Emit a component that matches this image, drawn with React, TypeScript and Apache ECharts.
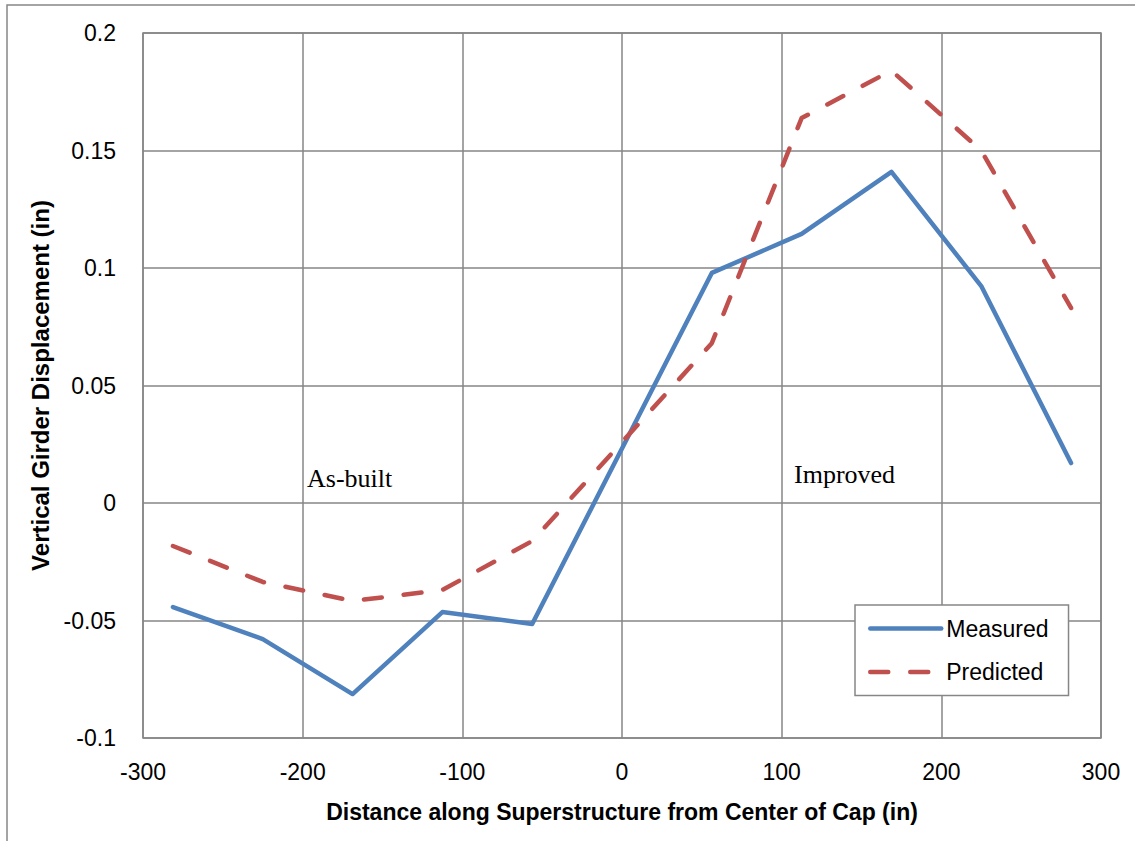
import React, { useEffect, useRef } from "react";
import * as echarts from "echarts";

const distances = [-281.25, -225, -168.75, -112.5, -56.25, 56.25, 112.5, 168.75, 225, 281.25];
const measured = [-0.0443, -0.0579, -0.0813, -0.0464, -0.0515, 0.0979, 0.1145, 0.1409, 0.0923, 0.017];
const predicted = [-0.0183, -0.0336, -0.0417, -0.037, -0.0162, 0.068, 0.1638, 0.184, 0.15, 0.083];
const seriesNames = ["Measured", "Predicted"];
const annotations = [
  { text: "As-built", x: 307, y: 478 },
  { text: "Improved", x: 794, y: 474 },
];

const GRAY = "#868686";
const FONT = "'Liberation Sans', Arial, sans-serif";

export default function App() {
  const ref = useRef<HTMLDivElement>(null);
  useEffect(() => {
    if (!ref.current) return;
    const chart = echarts.init(ref.current, undefined, { renderer: "svg" });
    const pair = (ys: number[]) => distances.map((x, i) => [x, ys[i]]);
    chart.setOption({
      animation: false,
      backgroundColor: "#ffffff",
      grid: {
        left: 143,
        top: 33,
        right: 34,
        bottom: 103,
        show: true,
        borderColor: GRAY,
        borderWidth: 1.5,
      },
      xAxis: {
        type: "value",
        min: -300,
        max: 300,
        interval: 100,
        name: "Distance along Superstructure from Center of Cap (in)",
        nameLocation: "middle",
        nameGap: 62,
        nameTextStyle: { fontFamily: FONT, fontWeight: "bold", fontSize: 23, color: "#000" },
        axisLine: { show: false },
        axisTick: { show: false },
        axisLabel: { fontFamily: FONT, fontSize: 23, color: "#000", margin: 22 },
        splitLine: { show: true, lineStyle: { color: GRAY, width: 1.5 } },
      },
      yAxis: {
        type: "value",
        min: -0.1,
        max: 0.2,
        interval: 0.05,
        name: "Vertical Girder Displacement (in)",
        nameLocation: "middle",
        nameRotate: 90,
        nameGap: 86,
        nameTextStyle: { fontFamily: FONT, fontWeight: "bold", fontSize: 24, color: "#000" },
        axisLine: { show: false },
        axisTick: { show: false },
        axisLabel: { fontFamily: FONT, fontSize: 23, color: "#000", margin: 27 },
        splitLine: { show: true, lineStyle: { color: GRAY, width: 1.5 } },
      },
      legend: {
        data: seriesNames,
        orient: "vertical",
        left: 855,
        top: 605,
        padding: [12, 20, 12, 13],
        itemGap: 20.5,
        itemWidth: 71,
        itemHeight: 14,
        backgroundColor: "#ffffff",
        borderColor: GRAY,
        borderWidth: 1.5,
        borderRadius: 0,
        itemStyle: { opacity: 0 },
        lineStyle: { width: 4.5, cap: "round" },
        textStyle: { fontFamily: FONT, fontSize: 23, color: "#000", lineHeight: 23 },
      },
      graphic: [
        {
          type: "rect",
          silent: true,
          shape: { x: 7, y: 5, width: 1150, height: 860 },
          style: { fill: "none", stroke: GRAY, lineWidth: 1.5 },
          z: 0,
        },
        ...annotations.map((a) => ({
          type: "text",
          x: a.x,
          y: a.y,
          silent: true,
          style: {
            text: a.text,
            fontFamily: "'Liberation Serif', 'Times New Roman', serif",
            fontSize: 26,
            fill: "#000",
            verticalAlign: "middle",
            align: "left",
          },
          z: 10,
        })),
      ],
      series: [
        {
          name: seriesNames[0],
          type: "line",
          data: pair(measured),
          symbol: "none",
          lineStyle: { color: "#4F81BD", width: 4.5, cap: "round", join: "round" },
          itemStyle: { color: "#4F81BD" },
        },
        {
          name: seriesNames[1],
          type: "line",
          data: pair(predicted),
          symbol: "none",
          lineStyle: { color: "#C0504D", width: 4.5, type: [18, 22], cap: "round", join: "round" },
          itemStyle: { color: "#C0504D" },
        },
      ],
    });
    return () => chart.dispose();
  }, []);
  return (
    <div
      ref={ref}
      style={{ position: "fixed", left: 0, top: 0, width: 1135, height: 841, background: "#fff" }}
    />
  );
}
